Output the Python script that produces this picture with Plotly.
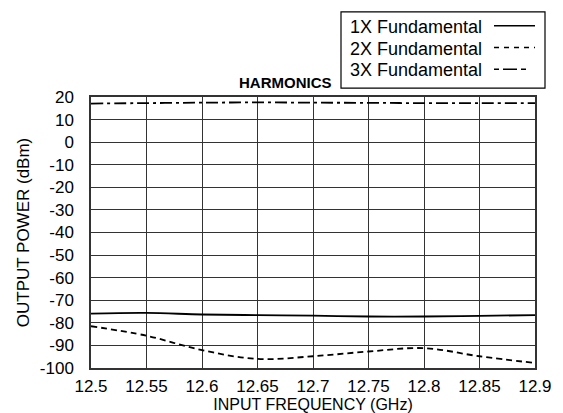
import plotly.graph_objects as go

freq = [12.5, 12.55, 12.6, 12.65, 12.7, 12.75, 12.8, 12.85, 12.9]
fund1 = [-75.9, -75.6, -76.3, -76.6, -76.8, -77.2, -77.2, -76.9, -76.6]
fund2 = [-81.5, -85.7, -92.1, -96.0, -94.8, -92.7, -91.2, -94.8, -97.8]
fund3 = [17.1, 17.3, 17.5, 17.6, 17.5, 17.4, 17.3, 17.3, 17.3]
xticks = [12.5, 12.55, 12.6, 12.65, 12.7, 12.75, 12.8, 12.85, 12.9]
yticks = list(range(-100, 21, 10))
names = ["1X Fundamental", "2X Fundamental", "3X Fundamental"]
dashes = ["solid", "6px,4px", "12px,4px,3px,4px"]
legend_dashes = ["solid", "5px,5px", "5px,4px,14px,4px,5px,40px"]

fig = go.Figure()
for ys, nm, d in zip([fund1, fund2, fund3], names, dashes):
    fig.add_trace(go.Scatter(x=freq, y=ys, mode="lines", name=nm,
                             line=dict(color="black", width=1.8, dash=d, shape="spline"),
                             showlegend=False))

FONT = "Liberation Sans, Arial, sans-serif"
L, R, T, B = 83, 527, 89, 363
fig.update_layout(
    width=563, height=413,
    margin=dict(l=L, r=563 - R, t=T, b=413 - B),
    paper_bgcolor="white", plot_bgcolor="white",
    font=dict(family=FONT, size=17, color="black"),
    xaxis=dict(range=[12.5, 12.9], tickvals=xticks, ticktext=[str(v) for v in xticks],
               showgrid=True, gridcolor="#333", gridwidth=1.2, zeroline=False,
               showline=True, linecolor="#333", linewidth=1.5, mirror=True,
               ticks="", ticklabelstandoff=2,
               title=dict(text="INPUT FREQUENCY (GHz)", standoff=2, font=dict(size=16))),
    yaxis=dict(range=[-100, 20], tickvals=yticks, ticktext=[str(v) for v in yticks],
               showgrid=True, gridcolor="#333", gridwidth=1.2, zeroline=False,
               showline=True, linecolor="#333", linewidth=1.5, mirror=True,
               ticks="", ticklabelstandoff=12,
               title=dict(text="OUTPUT POWER (dBm)", standoff=6, font=dict(size=17))),
)

pw, ph = R - L, B - T
def px(x):
    return (x - L) / pw
def py(y):
    return (B - y) / ph

fig.add_annotation(text="<b>HARMONICS</b>", xref="paper", yref="paper",
                   x=px(277), y=py(74), xanchor="center", yanchor="middle", showarrow=False,
                   font=dict(family="Liberation Sans Narrow, Liberation Sans, sans-serif", size=15))

# custom legend box (text then line sample)
fig.add_shape(type="rect", xref="paper", yref="paper", x0=px(333), x1=px(537),
              y0=py(80), y1=py(3), line=dict(color="black", width=1.2), fillcolor="white")
rows = [18, 40, 62]
for r, nm, d in zip(rows, names, legend_dashes):
    fig.add_annotation(text=nm, xref="paper", yref="paper", x=px(340), y=py(r),
                       xanchor="left", yanchor="middle", showarrow=False,
                       font=dict(family=FONT, size=18))
    fig.add_shape(type="line", xref="paper", yref="paper", x0=px(486), x1=px(527),
                  y0=py(r - 1), y1=py(r - 1), line=dict(color="black", width=1.6, dash=d))

fig.write_html("out.html")
